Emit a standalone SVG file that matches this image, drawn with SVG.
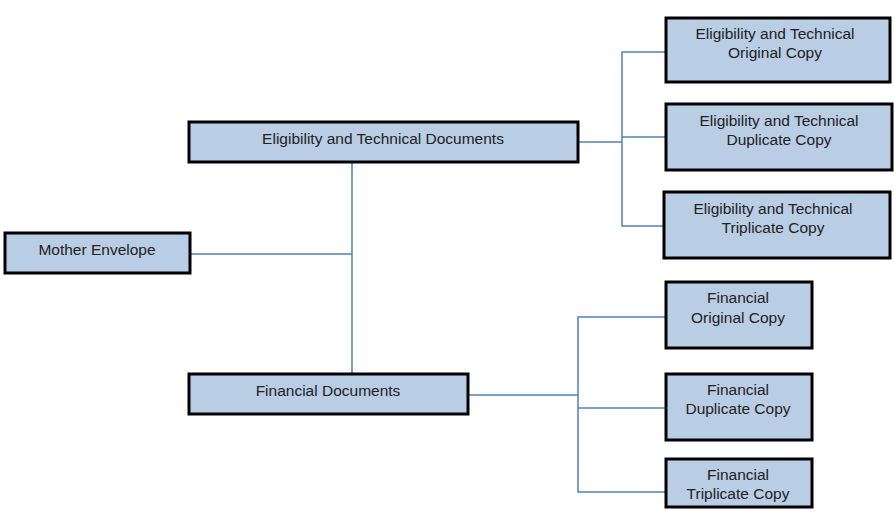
<svg xmlns="http://www.w3.org/2000/svg" width="894" height="511" viewBox="0 0 894 511">
<style>
.box{fill:#B9CDE5;stroke:#000;stroke-width:3}
.t{font-family:"Liberation Sans",Arial,sans-serif;font-size:15.5px;fill:#222;text-anchor:middle}
.c{fill:none;stroke:#4F81BD;stroke-width:1.5}
</style>
<rect width="894" height="511" fill="#fff"/>
<g id="connectors">
<polyline class="c" points="189,254 352,254"/>
<polyline class="c" points="352,163 352,373"/>
<polyline class="c" points="578,142 622,142"/>
<polyline class="c" points="665,52 622,52 622,226 665,226"/>
<polyline class="c" points="622,137 665,137"/>
<polyline class="c" points="468,395 578,395"/>
<polyline class="c" points="665,317 578,317 578,492 665,492"/>
<polyline class="c" points="578,408 665,408"/>
</g>
<g id="mother"><rect class="box" x="5" y="233" width="185" height="40"/><text class="t" x="97" y="255">Mother Envelope</text></g>
<g id="etdocs"><rect class="box" x="189" y="122" width="389" height="40"/><text class="t" x="383" y="144">Eligibility and Technical Documents</text></g>
<g id="findocs"><rect class="box" x="189" y="374" width="279" height="40"/><text class="t" x="328" y="396">Financial Documents</text></g>
<g id="eto"><rect class="box" x="666" y="18" width="224" height="64"/><text class="t" x="775" y="39">Eligibility and Technical</text><text class="t" x="775" y="58">Original Copy</text></g>
<g id="etd"><rect class="box" x="666" y="104" width="226" height="66"/><text class="t" x="779" y="126">Eligibility and Technical</text><text class="t" x="779" y="145">Duplicate Copy</text></g>
<g id="ett"><rect class="box" x="664" y="192" width="226" height="66"/><text class="t" x="773" y="214">Eligibility and Technical</text><text class="t" x="773" y="233">Triplicate Copy</text></g>
<g id="fo"><rect class="box" x="666" y="282" width="146" height="66"/><text class="t" x="738" y="303">Financial</text><text class="t" x="738" y="323">Original Copy</text></g>
<g id="fd"><rect class="box" x="666" y="374" width="146" height="66"/><text class="t" x="738" y="395">Financial</text><text class="t" x="738" y="414">Duplicate Copy</text></g>
<g id="ft"><rect class="box" x="666" y="459" width="146" height="48"/><text class="t" x="738" y="480">Financial</text><text class="t" x="738" y="499">Triplicate Copy</text></g>
</svg>
